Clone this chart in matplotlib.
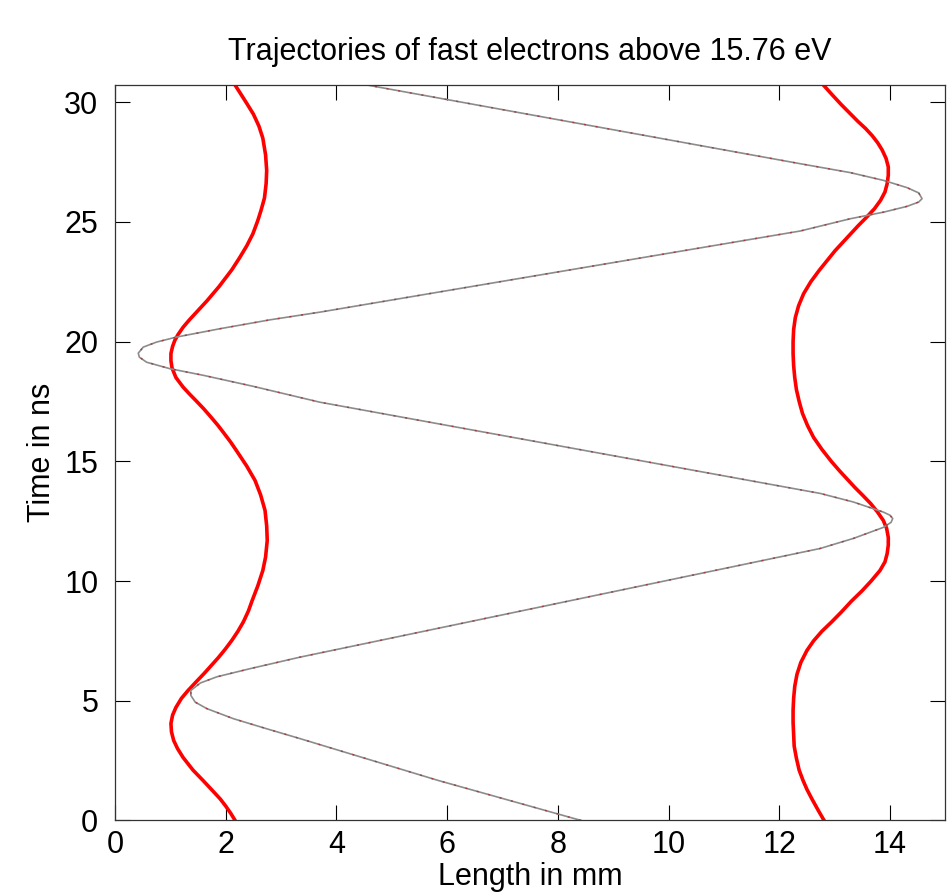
import numpy as np
import matplotlib
matplotlib.use("Agg")
import matplotlib.pyplot as plt

plt.rcParams['font.family'] = ['Liberation Sans', 'DejaVu Sans']

# left sheath edge (time in ns, position in mm)
left_t = [0, 0.3, 0.6, 0.9, 1.25, 1.67, 2.1, 2.63, 3.0, 3.34, 3.7, 4.05, 4.4,
          4.72, 5.1, 5.43, 5.8, 6.14, 6.5, 6.81, 7.15, 7.52, 7.9, 8.3, 8.75,
          9.2, 9.8, 10.44, 11.0, 11.7, 12.3, 12.95, 13.6, 14.2, 14.8, 15.46,
          15.8, 16.17, 16.5, 16.83, 17.2, 17.54, 17.8, 18.1, 18.5, 18.9, 19.2,
          19.5, 19.8, 20.05, 20.3, 20.6, 20.9, 21.2, 21.7, 22.3, 23.0, 23.5,
          24.0, 24.5, 25.06, 25.5, 26.0, 26.6, 27.15, 27.8, 28.5, 29.0, 29.5,
          29.95, 30.35, 30.71]
left_x = [2.17, 2.09, 2.00, 1.90, 1.76, 1.59, 1.41, 1.23, 1.13, 1.06, 1.02, 1.01,
          1.04, 1.10, 1.20, 1.32, 1.47, 1.61, 1.75, 1.87, 1.99, 2.11, 2.22,
          2.32, 2.41, 2.48, 2.58, 2.67, 2.72, 2.75, 2.74, 2.71, 2.63, 2.53,
          2.38, 2.19, 2.09, 1.97, 1.86, 1.74, 1.60, 1.46, 1.35, 1.23, 1.10,
          1.03, 1.01, 1.01, 1.04, 1.08, 1.14, 1.23, 1.34, 1.46, 1.66, 1.88,
          2.11, 2.25, 2.38, 2.49, 2.58, 2.64, 2.70, 2.73, 2.74, 2.72, 2.67,
          2.60, 2.50, 2.38, 2.27, 2.17]

# right sheath edge
right_t = [0, 0.4, 0.9, 1.3, 1.67, 2.1, 2.6, 3.1, 3.6, 4.1, 4.6, 5.1, 5.6, 6.1,
           6.6, 7.1, 7.5, 7.9, 8.3, 8.7, 9.15, 9.6, 10.0, 10.44, 10.8, 11.15,
           11.5, 11.82, 12.2, 12.53, 12.9, 13.24, 13.6, 13.9, 14.25, 14.6, 15.0,
           15.5, 16.0, 16.5, 17.0, 17.5, 18.0, 18.5, 19.0, 19.5, 20.0, 20.5,
           21.0, 21.5, 22.0, 22.5, 22.97, 23.4, 23.8, 24.15, 24.5, 24.85, 25.2,
           25.55, 25.9, 26.25, 26.6, 26.95, 27.3, 27.65, 28.0, 28.3, 28.6, 28.9,
           29.2, 29.55, 29.9, 30.3, 30.71]
right_x = [12.81, 12.71, 12.59, 12.50, 12.43, 12.36, 12.31, 12.27, 12.26, 12.25,
           12.25, 12.26, 12.28, 12.32, 12.39, 12.50, 12.62, 12.77, 12.95, 13.12,
           13.30, 13.50, 13.66, 13.82, 13.91, 13.95, 13.97, 13.97, 13.94, 13.88,
           13.77, 13.65, 13.50, 13.37, 13.23, 13.09, 12.94, 12.77, 12.62, 12.51,
           12.42, 12.36, 12.31, 12.28, 12.26, 12.25, 12.25, 12.26, 12.29, 12.35,
           12.44, 12.57, 12.72, 12.87, 13.01, 13.15, 13.29, 13.43, 13.58, 13.72,
           13.83, 13.91, 13.95, 13.97, 13.97, 13.93, 13.86, 13.78, 13.68, 13.56,
           13.42, 13.27, 13.12, 12.96, 12.80]

# fast electron trajectory
traj_t = [0, 1.67, 3.42, 3.83, 4.25, 4.67, 4.94, 5.22, 5.43, 5.74, 6.0, 6.34,
          6.82, 11.36, 11.78, 12.24, 12.45, 12.61, 12.75, 12.88, 13.3, 13.66,
          17.47, 18.13, 18.59, 18.87, 19.14, 19.35, 19.52, 19.77, 19.98, 20.19,
          20.54, 20.91, 21.23, 24.62, 25.13, 25.41, 25.65, 25.83, 25.97, 26.21,
          26.43, 26.73, 27.06, 27.43, 30.71]
traj_x = [8.42, 5.84, 3.34, 2.74, 2.14, 1.66, 1.45, 1.37, 1.37, 1.54, 1.84, 2.44,
          3.34, 12.74, 13.34, 13.88, 14.02, 14.05, 14.0, 13.88, 13.34, 12.74,
          3.7, 2.5, 1.6, 0.99, 0.57, 0.44, 0.42, 0.51, 0.75, 1.11,
          1.9, 2.8, 3.7, 12.38, 13.28, 13.89, 14.31, 14.52, 14.58, 14.52,
          14.31, 13.89, 13.28, 12.38, 4.57]

fig = plt.figure(figsize=(9.49, 8.92), dpi=100)
ax = fig.add_axes([0.1212, 0.0802, 0.8749, 0.8243])

ax.plot(left_x, left_t, color='#ff0000', lw=2.6)
ax.plot(right_x, right_t, color='#ff0000', lw=2.6)
# gray trajectory with faint red flecks
ax.plot(traj_x, traj_t, color='#8c8c8c', lw=1.2)
ax.plot(traj_x, traj_t, color='#a04040', lw=1.0, dashes=(1.5, 7))

ax.set_xlim(0, 15)
ax.set_ylim(0, 30.71)
ax.set_xticks(np.arange(0, 15, 2))
ax.set_yticks(np.arange(0, 31, 5))

for s in ax.spines.values():
    s.set_linewidth(0.9)
    s.set_color('#333333')
ax.tick_params(direction='in', length=11, width=0.8, top=True, right=True,
               labelsize=22, colors='black')
ax.tick_params(axis='x', pad=7)
ax.tick_params(axis='y', pad=12)

ax.set_title('Trajectories of fast electrons above 15.76 eV', fontsize=22, pad=18)
ax.set_xlabel('Length in mm', fontsize=22, labelpad=1)
ax.set_ylabel('Time in ns', fontsize=22, labelpad=5)

fig.savefig('out.png', dpi=100)
